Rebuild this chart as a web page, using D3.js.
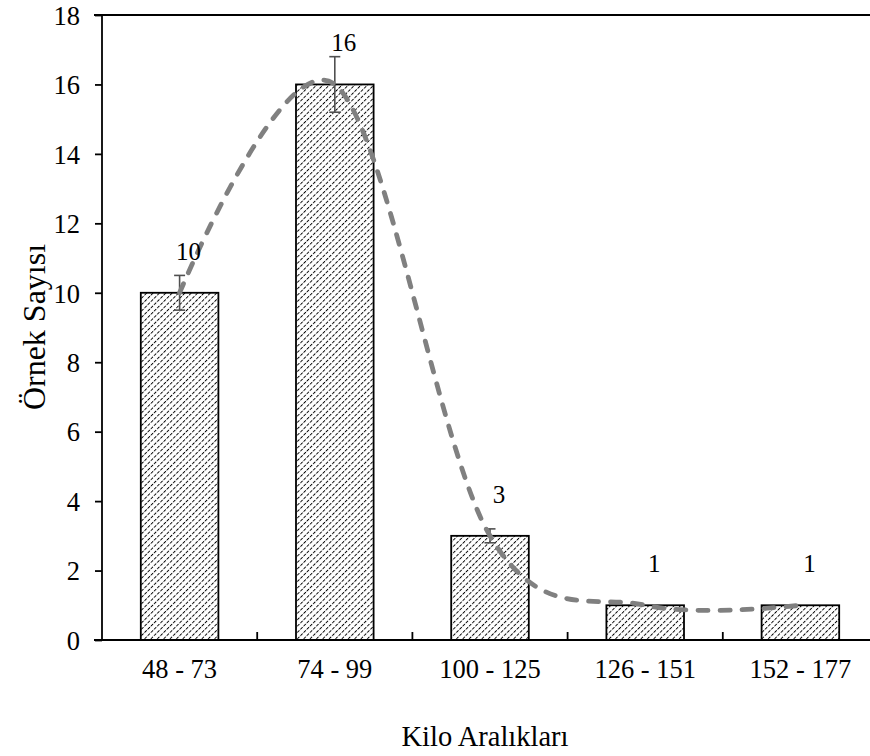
<!DOCTYPE html>
<html>
<head>
<meta charset="utf-8">
<script src="https://cdn.jsdelivr.net/npm/d3@7"></script>
<style>
  html, body { margin: 0; padding: 0; background: #fff; }
  svg { display: block; }
  text { font-family: "Liberation Serif", "Times New Roman", serif; fill: #000; }
</style>
</head>
<body>
<svg id="chart" width="870" height="756"></svg>
<script>
const categories = ["48 - 73", "74 - 99", "100 - 125", "126 - 151", "152 - 177"];
const counts = [10, 16, 3, 1, 1];
const errors = [0.5, 0.8, 0.2, 0, 0];
const yTicks = [0, 2, 4, 6, 8, 10, 12, 14, 16, 18];
const yTitle = "Örnek Sayısı";
const xTitle = "Kilo Aralıkları";

(function () {
const svg = d3.select("#chart");
const W = 870, H = 756;
const pL = 102, pR = 878, pT = 15, pB = 640;

const x = d3.scaleBand().domain(categories).range([pL, pR]).paddingInner(0.5).paddingOuter(0.25);
const y = d3.scaleLinear().domain([0, 18]).range([pB, pT]);

// hatch pattern
const defs = svg.append("defs");
const ps = 4.5;
const pat = defs.append("pattern")
  .attr("id", "hatch").attr("patternUnits", "userSpaceOnUse")
  .attr("width", ps).attr("height", ps)
  .attr("patternTransform", "rotate(45)");
pat.append("rect").attr("width", ps).attr("height", ps).attr("fill", "#fff");
pat.append("line").attr("x1", 0).attr("y1", 0).attr("x2", 0).attr("y2", ps)
  .attr("stroke", "#000").attr("stroke-width", 1.9).attr("stroke-dasharray", "3.2,1.3");

// bars
svg.append("g").selectAll("rect").data(categories).join("rect")
  .attr("x", d => x(d))
  .attr("y", (d, i) => y(counts[i]))
  .attr("width", x.bandwidth())
  .attr("height", (d, i) => y(0) - y(counts[i]))
  .attr("fill", "url(#hatch)")
  .attr("stroke", "#000").attr("stroke-width", 1.8);

// error bars
const eb = svg.append("g").attr("stroke", "#505050").attr("stroke-width", 1.6);
categories.forEach((c, i) => {
  if (!errors[i]) return;
  const cx = x(c) + x.bandwidth() / 2;
  const y1 = y(counts[i] + errors[i]), y2 = y(counts[i] - errors[i]);
  eb.append("line").attr("x1", cx).attr("x2", cx).attr("y1", y1).attr("y2", y2);
  eb.append("line").attr("x1", cx - 5.5).attr("x2", cx + 5.5).attr("y1", y1).attr("y2", y1);
  eb.append("line").attr("x1", cx - 5.5).attr("x2", cx + 5.5).attr("y1", y2).attr("y2", y2);
});

// smooth dashed line
const line = d3.line()
  .x((d, i) => x(categories[i]) + x.bandwidth() / 2)
  .y(d => y(d))
  .curve(d3.curveCardinal.tension(0));
svg.append("path").datum(counts)
  .attr("d", line)
  .attr("fill", "none").attr("stroke", "#808080")
  .attr("stroke-width", 4.8).attr("stroke-linecap", "round")
  .attr("stroke-dasharray", "10,12");

// data labels
svg.append("g").selectAll("text").data(categories).join("text")
  .attr("x", d => x(d) + x.bandwidth() / 2 + 9)
  .attr("y", (d, i) => y(counts[i]) - 33)
  .attr("text-anchor", "middle")
  .attr("font-size", 25)
  .text((d, i) => counts[i]);

// axes
const axG = svg.append("g").attr("stroke", "#000").attr("stroke-width", 1.8);
axG.append("line").attr("x1", pL).attr("x2", pL).attr("y1", pT).attr("y2", pB);
axG.append("line").attr("x1", pL - 8).attr("x2", W).attr("y1", pB).attr("y2", pB);
axG.append("line").attr("x1", pL - 8).attr("x2", W).attr("y1", pT).attr("y2", pT);

const yAxis = d3.axisLeft(y).tickValues(yTicks).tickSize(7).tickPadding(15).tickFormat(d3.format("d"));
const gy = svg.append("g").attr("transform", `translate(${pL},0)`).call(yAxis);
gy.select(".domain").remove();
gy.selectAll(".tick line").attr("stroke", "#000").attr("stroke-width", 1.8);
gy.selectAll(".tick text").attr("font-size", 26.5).attr("font-family", "Liberation Serif").attr("dy", "0.35em");

// x category boundary ticks (inside)
const step = x.step();
const boundaries = d3.range(1, categories.length).map(k => pL + step * k);
axG.selectAll("line.xt").data(boundaries).join("line").attr("class", "xt")
  .attr("x1", d => d).attr("x2", d => d).attr("y1", pB).attr("y2", pB - 8);

// x tick labels
svg.append("g").selectAll("text").data(categories).join("text")
  .attr("x", d => x(d) + x.bandwidth() / 2)
  .attr("y", pB + 38)
  .attr("text-anchor", "middle")
  .attr("font-size", 26.5)
  .text(d => d);

// titles
svg.append("text").attr("x", 485).attr("y", 746).attr("text-anchor", "middle")
  .attr("font-size", 28.5).text(xTitle);
svg.append("text").attr("transform", "translate(45,327) rotate(-90)").attr("text-anchor", "middle")
  .attr("font-size", 32).text(yTitle);
})();
</script>
</body>
</html>
